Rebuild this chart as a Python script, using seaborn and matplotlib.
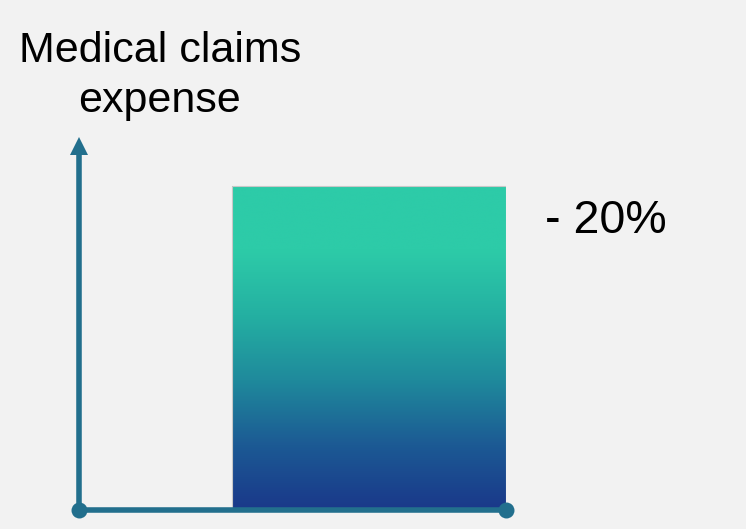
import numpy as np
import pandas as pd
import matplotlib
matplotlib.use("Agg")
import matplotlib.pyplot as plt
from matplotlib.colors import LinearSegmentedColormap
import seaborn as sns

# Data
categories = ["Medical claims expense"]
values = [100]
change_label = "- 20%"
axis_title_lines = ["Medical claims", "expense"]

df = pd.DataFrame({"category": categories, "value": values})

sns.set_theme(style="white")
plt.rcParams["font.family"] = ["Liberation Sans", "DejaVu Sans"]

W, H = 746, 529
fig = plt.figure(figsize=(W / 100, H / 100), dpi=100)
fig.patch.set_facecolor("#f2f2f2")

# axes: origin at (79, 510) px, x axis to 506 px, y arrow tip at 137 px
x0, y0, x1, y1 = 79, 510, 506, 137
ax = fig.add_axes([x0 / W, (H - y0) / H, (x1 - x0) / W, (y0 - y1) / H])
ax.set_facecolor("none")

sns.barplot(data=df, x="category", y="value", width=0.8, ax=ax,
            color="#2dcba8", edgecolor="none")

# vertical gradient fill clipped to the bar
grad_cmap = LinearSegmentedColormap.from_list(
    "claims", ["#1a388a", "#1c5a94", "#1f8a9c", "#24b0a2", "#2dcba8", "#2dcba8"])
for patch in ax.patches:
    bx, by = patch.get_x(), patch.get_y()
    bw, bh = patch.get_width(), patch.get_height()
    patch.set_facecolor("none")
    grad = np.linspace(0, 1, 256).reshape(-1, 1)
    im = ax.imshow(grad, cmap=grad_cmap, aspect="auto", origin="lower",
                   extent=[bx, bx + bw, by, by + bh], zorder=1,
                   interpolation="bicubic")
    im.set_clip_path(patch)
    ax.add_patch(plt.Rectangle((bx, by), bw, bh, fill=False,
                               edgecolor="#c8c8c8", lw=0.8, zorder=2))
ax.set_xlim(-0.847, 0.4)
ax.set_ylim(0, 115)

for s in ax.spines.values():
    s.set_visible(False)
ax.set_xticks([])
ax.set_yticks([])
ax.set_xlabel("")
ax.set_ylabel("")

axis_color = "#226f8d"
tr = ax.transAxes
# y axis with arrowhead
ax.plot([0, 0], [0, 0.955], color=axis_color, lw=4, transform=tr,
        clip_on=False, zorder=3, solid_capstyle="butt")
ax.plot([0], [0.977], marker="^", ms=12.5, color=axis_color, transform=tr,
        clip_on=False, zorder=3, markeredgewidth=0)
# x axis with round end points
ax.plot([0, 1], [0, 0], color=axis_color, lw=4, transform=tr,
        clip_on=False, zorder=3, solid_capstyle="butt")
ax.plot([0, 1], [0, 0], ls="none", marker="o", ms=11.5, color=axis_color,
        transform=tr, clip_on=False, zorder=4, markeredgewidth=0)

# text labels
for line, base_px in zip(axis_title_lines, [62, 112]):
    fig.text(160 / W, 1 - base_px / H, line, ha="center", va="baseline",
             fontsize=31, color="black")
fig.text(545 / W, 1 - 233 / H, change_label, ha="left", va="baseline",
         fontsize=33.5, color="black")

fig.savefig("out.png", dpi=100, facecolor=fig.get_facecolor())
